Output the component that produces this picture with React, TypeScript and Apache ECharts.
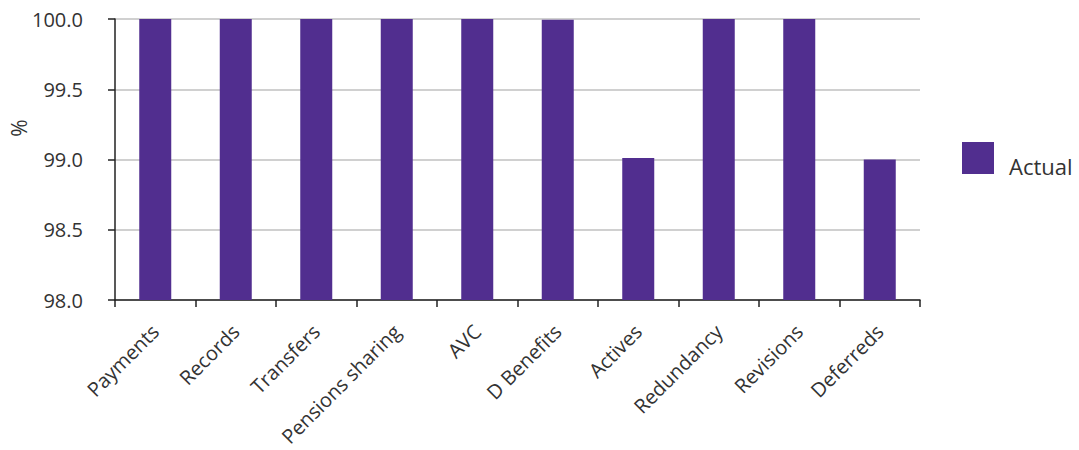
import React, { useEffect, useRef } from "react";
import * as echarts from "echarts";

const categories = [
  "Payments",
  "Records",
  "Transfers",
  "Pensions sharing",
  "AVC",
  "D Benefits",
  "Actives",
  "Redundancy",
  "Revisions",
  "Deferreds",
];
const actual = [100, 100, 100, 100, 100, 99.995, 99.01, 100, 100, 99.0];
const seriesName = "Actual";
const yTicks = { min: 98, max: 100, interval: 0.5 };

const FONT = "'Open Sans', 'DejaVu Sans', sans-serif";
const TEXT = "#333333";
const PURPLE = "#512e8f";

export default function App() {
  const ref = useRef<HTMLDivElement>(null);
  useEffect(() => {
    if (!ref.current) return;
    const chart = echarts.init(ref.current, undefined, { renderer: "svg" });
    chart.setOption({
      animation: false,
      grid: { left: 115, top: 19, right: 159, bottom: 150, containLabel: false },
      legend: {
        orient: "vertical",
        left: 962,
        top: 142,
        padding: 0,
        icon: "rect",
        itemWidth: 32,
        itemHeight: 32,
        itemGap: 10,
        data: [seriesName],
        formatter: "{a|{name}}",
        textStyle: {
          fontFamily: FONT,
          fontSize: 22,
          color: TEXT,
          rich: {
            a: {
              fontFamily: FONT,
              fontSize: 22,
              color: TEXT,
              padding: [15, 0, 0, 10],
            },
          },
        },
      },
      graphic: [
        {
          type: "text",
          x: 19,
          y: 128,
          rotation: Math.PI / 2,
          style: {
            text: "%",
            fontFamily: FONT,
            fontSize: 21,
            fill: TEXT,
            align: "center",
            verticalAlign: "middle",
          },
        },
      ],
      xAxis: {
        type: "category",
        data: categories,
        axisLine: { lineStyle: { color: "#222", width: 1.5 } },
        axisTick: { show: true, length: 7, alignWithLabel: false, lineStyle: { color: "#222", width: 1.5 } },
        axisLabel: {
          rotate: 45,
          interval: 0,
          margin: 28,
          fontFamily: FONT,
          fontSize: 20,
          color: TEXT,
        },
      },
      yAxis: {
        type: "value",
        min: yTicks.min,
        max: yTicks.max,
        interval: yTicks.interval,
        axisLine: { show: true, lineStyle: { color: "#222", width: 1.5 } },
        axisTick: { show: true, length: 7, lineStyle: { color: "#222", width: 1.5 } },
        splitLine: { lineStyle: { color: "#c0c0c0", width: 1.5 } },
        axisLabel: {
          margin: 32,
          fontFamily: FONT,
          fontSize: 20,
          color: TEXT,
          formatter: (v: number) => v.toFixed(1),
        },
      },
      series: [
        {
          name: seriesName,
          type: "bar",
          data: actual,
          barWidth: 32,
          itemStyle: { color: PURPLE },
        },
      ],
    });
    return () => chart.dispose();
  }, []);
  return <div ref={ref} style={{ width: 1079, height: 450, position: "absolute", left: 0, top: 0 }} />;
}
